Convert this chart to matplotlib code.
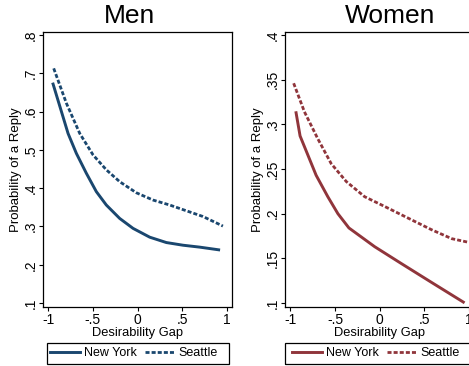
import numpy as np
import matplotlib.pyplot as plt
from matplotlib.patches import Rectangle

plt.rcParams['font.family'] = ['Liberation Sans', 'DejaVu Sans']

# Men panel
men_ny_x = [-0.947, -0.779, -0.686, -0.574, -0.462, -0.350, -0.200, -0.050,
            0.137, 0.323, 0.510, 0.697, 0.910]
men_ny_y = [0.672, 0.543, 0.491, 0.439, 0.391, 0.356, 0.321, 0.295,
            0.272, 0.258, 0.251, 0.246, 0.239]
men_sea_x = [-0.940, -0.798, -0.648, -0.499, -0.350, -0.200, -0.013,
             0.174, 0.361, 0.547, 0.734, 0.958]
men_sea_y = [0.713, 0.622, 0.543, 0.487, 0.448, 0.417, 0.388,
             0.369, 0.356, 0.341, 0.326, 0.301]

# Women panel
women_ny_x = [-0.936, -0.891, -0.711, -0.580, -0.467, -0.343, -0.054, 0.247, 0.584, 0.940]
women_ny_y = [0.313, 0.287, 0.243, 0.219, 0.200, 0.184, 0.163, 0.144, 0.123, 0.101]
women_sea_x = [-0.963, -0.842, -0.693, -0.542, -0.373, -0.167, 0.059, 0.321, 0.584, 0.810, 0.995]
women_sea_y = [0.346, 0.314, 0.284, 0.256, 0.236, 0.219, 0.208, 0.195, 0.182, 0.172, 0.168]

x_ticks = [-1, -0.5, 0, 0.5, 1]
x_tick_labels = ['-1', '-.5', '0', '.5', '1']
men_y_ticks = [0.1, 0.2, 0.3, 0.4, 0.5, 0.6, 0.7, 0.8]
men_y_labels = ['.1', '.2', '.3', '.4', '.5', '.6', '.7', '.8']
women_y_ticks = [0.1, 0.15, 0.2, 0.25, 0.3, 0.35, 0.4]
women_y_labels = ['.1', '.15', '.2', '.25', '.3', '.35', '.4']

navy = '#1A476F'
maroon = '#90353B'

fig = plt.figure(figsize=(4.69, 3.66), dpi=100)
ax1 = fig.add_axes([0.0917, 0.1612, 0.403, 0.7514])
ax2 = fig.add_axes([0.6077, 0.1612, 0.403, 0.7514])


def style_panel(ax, title, yticks, ylabels, ylim, title_x):
    ax.set_xlim(-1.06, 1.06)
    ax.set_ylim(*ylim)
    ax.set_xticks(x_ticks)
    ax.set_xticklabels(x_tick_labels)
    ax.set_yticks(yticks)
    ax.set_yticklabels(ylabels, rotation=90, va='center')
    ax.tick_params(direction='out', length=3, width=0.8, labelsize=10, pad=1.5)
    ax.tick_params(axis='y', pad=1)
    ax.set_xlabel('Desirability Gap', fontsize=9.3, labelpad=0)
    ax.set_ylabel('Probability of a Reply', fontsize=9.5, labelpad=1)
    for s in ax.spines.values():
        s.set_linewidth(0.9)
    fig.text(title_x, 0.955, title, fontsize=19, ha='center', va='center')


ax1.plot(men_ny_x, men_ny_y, color=navy, lw=2.1, label='New York')
ax1.plot(men_sea_x, men_sea_y, color=navy, lw=2.0, dashes=(1.45, 0.75), label='Seattle')
style_panel(ax1, 'Men', men_y_ticks, men_y_labels, (0.0896, 0.808), 0.277)

ax2.plot(women_ny_x, women_ny_y, color=maroon, lw=2.1, label='New York')
ax2.plot(women_sea_x, women_sea_y, color=maroon, lw=2.0, dashes=(1.45, 0.75), label='Seattle')
style_panel(ax2, 'Women', women_y_ticks, women_y_labels, (0.0955, 0.4034), 0.832)

# legend boxes sit below each panel
for ax, box_x, box_w in [(ax1, 0.0212, 0.963), (ax2, 0.0, 1.0)]:
    ax.add_patch(Rectangle((box_x, -0.2073), box_w, 0.0764, transform=ax.transAxes,
                           fill=False, edgecolor='black', lw=0.9, clip_on=False))
    ax.legend(loc='center left', bbox_to_anchor=(0.037, -0.169), ncol=2,
              frameon=False, fontsize=9, handlelength=2.4, handletextpad=0.32,
              columnspacing=0.64, borderpad=0, borderaxespad=0)

fig.savefig('out.png', dpi=100)
